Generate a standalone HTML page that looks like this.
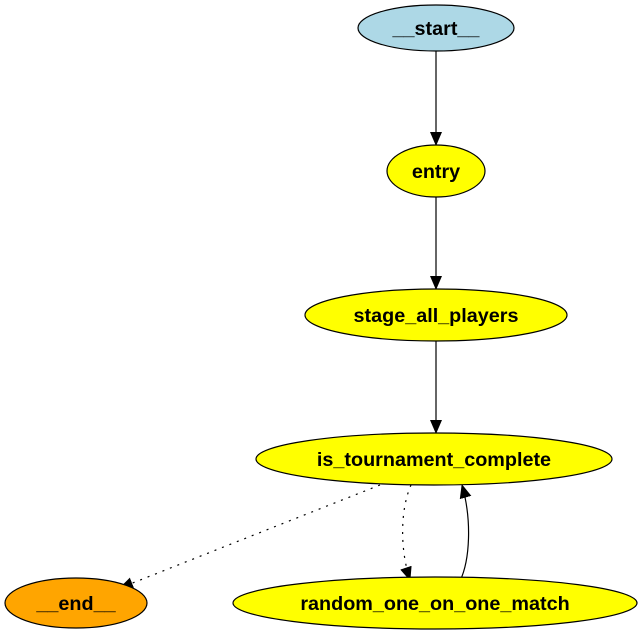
<!DOCTYPE html>
<html><head><style>body{margin:0;background:#fff}svg{display:block}</style></head><body>
<svg width="644" height="635" viewBox="0 0 644 635" xmlns="http://www.w3.org/2000/svg" font-family="Liberation Sans, sans-serif" font-weight="bold" font-size="19.8">
<defs><marker id="a" markerWidth="14" markerHeight="12" refX="13" refY="6" orient="auto" markerUnits="userSpaceOnUse"><path d="M0,0 L14,6 L0,12 Z" fill="#000"/></marker></defs>
<g stroke="#000" stroke-width="1.2" fill="none">
<line x1="436" y1="51" x2="436" y2="145" marker-end="url(#a)"/>
<line x1="436" y1="197" x2="436" y2="289" marker-end="url(#a)"/>
<line x1="436" y1="341" x2="436" y2="433" marker-end="url(#a)"/>
<path d="M380,485 L120,588" stroke-dasharray="2,6" marker-end="url(#a)"/>
<path d="M411,485 C400,510 400,550 410,580" stroke-dasharray="2,6" marker-end="url(#a)"/>
<path d="M460,581 C470,560 472,520 462,485" marker-end="url(#a)"/>
</g>
<g stroke="#000" stroke-width="1.2">
<ellipse cx="436" cy="28" rx="78" ry="23" fill="#add8e6"/>
<ellipse cx="436" cy="171" rx="49" ry="26" fill="#ffff00"/>
<ellipse cx="436" cy="315" rx="131" ry="26" fill="#ffff00"/>
<ellipse cx="434" cy="459" rx="178" ry="26" fill="#ffff00"/>
<ellipse cx="76" cy="603" rx="71" ry="25" fill="#ffa500"/>
<ellipse cx="435" cy="603" rx="202" ry="26" fill="#ffff00"/>
</g>
<g text-anchor="middle" fill="#000">
<text x="436" y="35">__start__</text>
<text x="436" y="178">entry</text>
<text x="436" y="322">stage_all_players</text>
<text x="434" y="466">is_tournament_complete</text>
<text x="76" y="610">__end__</text>
<text x="435" y="610">random_one_on_one_match</text>
</g>
</svg>
</body></html>
